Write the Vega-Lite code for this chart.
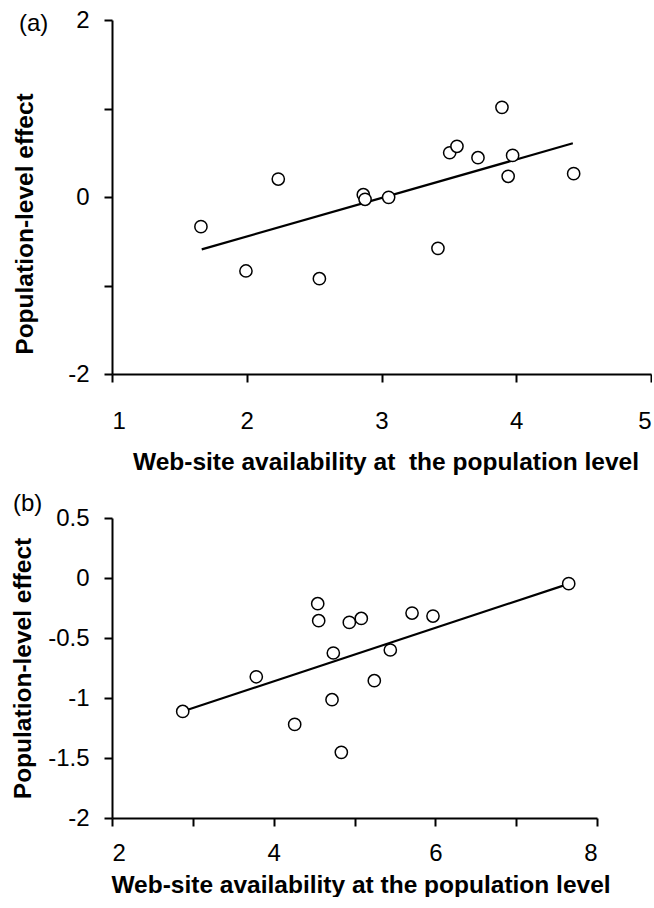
{
  "$schema": "https://vega.github.io/schema/vega-lite/v6.json",
  "padding": {"left": 10, "top": 8, "right": 0, "bottom": 0},
  "spacing": 18,
  "config": {
    "view": {"stroke": null},
    "font": "Liberation Sans",
    "axis": {
      "grid": false,
      "domainColor": "black",
      "domainWidth": 2,
      "tickColor": "black",
      "tickWidth": 2,
      "tickSize": 8,
      "labelColor": "black",
      "labelFont": "Liberation Sans",
      "labelFontSize": 24,
      "titleFont": "Liberation Sans",
      "titleFontSize": 24.5,
      "titleFontWeight": "bold",
      "titleColor": "black"
    },
    "title": {
      "font": "Liberation Sans",
      "fontSize": 24,
      "fontWeight": "normal",
      "color": "black",
      "anchor": "start",
      "frame": "group",
      "baseline": "middle"
    }
  },
  "datasets": {
    "a_points": [
      {"x": 1.66, "y": -0.335},
      {"x": 1.994, "y": -0.836},
      {"x": 2.234, "y": 0.203},
      {"x": 2.539, "y": -0.923},
      {"x": 2.865, "y": 0.026},
      {"x": 2.878, "y": -0.026},
      {"x": 3.053, "y": -0.004},
      {"x": 3.419, "y": -0.58},
      {"x": 3.506, "y": 0.5},
      {"x": 3.56, "y": 0.573},
      {"x": 3.716, "y": 0.444},
      {"x": 3.894, "y": 1.013},
      {"x": 3.973, "y": 0.47},
      {"x": 3.94, "y": 0.234},
      {"x": 4.426, "y": 0.264}
    ],
    "a_line": [
      {"x": 1.666, "y": -0.592},
      {"x": 4.42, "y": 0.607}
    ],
    "b_points": [
      {"x": 2.875, "y": -1.112},
      {"x": 3.785, "y": -0.823},
      {"x": 4.545, "y": -0.214},
      {"x": 4.557, "y": -0.356},
      {"x": 4.738, "y": -0.625},
      {"x": 4.722, "y": -1.014},
      {"x": 4.26, "y": -1.22},
      {"x": 4.837, "y": -1.453},
      {"x": 4.936, "y": -0.37},
      {"x": 5.084, "y": -0.337},
      {"x": 5.245, "y": -0.856},
      {"x": 5.443, "y": -0.6},
      {"x": 5.712, "y": -0.292},
      {"x": 5.971, "y": -0.317},
      {"x": 7.65, "y": -0.047}
    ],
    "b_line": [
      {"x": 2.88, "y": -1.11},
      {"x": 7.62, "y": -0.055}
    ]
  },
  "vconcat": [
    {
      "width": 539,
      "height": 354,
      "title": {"text": "(a)", "offset": -28, "dx": -93},
      "encoding": {
        "x": {
          "field": "x",
          "type": "quantitative",
          "scale": {"domain": [1, 5], "nice": false, "zero": false},
          "axis": {
            "title": "Web-site availability at \u00a0the population level",
            "values": [1, 2, 3, 4, 5],
            "labelExpr": "datum.value + ''",
            "labelPadding": 27,
            "titlePadding": 17,
            "titleX": 273.5
          }
        },
        "y": {
          "field": "y",
          "type": "quantitative",
          "scale": {"domain": [-2, 2], "nice": false, "zero": false},
          "axis": {
            "title": "Population-level effect",
            "values": [-2, -1, 0, 1, 2],
            "labelExpr": "datum.value % 2 === 0 ? datum.value + '' : ''",
            "labelPadding": 15,
            "titlePadding": 30,
            "titleY": 203.5
          }
        }
      },
      "layer": [
        {
          "data": {"name": "a_line"},
          "mark": {"type": "line", "color": "black", "strokeWidth": 2.2}
        },
        {
          "data": {"name": "a_points"},
          "mark": {"type": "point", "shape": "circle", "filled": true, "fill": "white", "stroke": "black", "strokeWidth": 1.5, "size": 150, "opacity": 1}
        }
      ]
    },
    {
      "width": 485,
      "height": 300,
      "title": {"text": "(b)", "offset": -10, "dx": -99},
      "encoding": {
        "x": {
          "field": "x",
          "type": "quantitative",
          "scale": {"domain": [2, 8], "nice": false, "zero": false},
          "axis": {
            "title": "Web-site availability at the population level",
            "values": [2, 3, 4, 5, 6, 7, 8],
            "labelExpr": "datum.value % 2 === 0 ? datum.value + '' : ''",
            "labelPadding": 15,
            "titlePadding": 8,
            "titleX": 248.5
          }
        },
        "y": {
          "field": "y",
          "type": "quantitative",
          "scale": {"domain": [-2, 0.5], "nice": false, "zero": false},
          "axis": {
            "title": "Population-level effect",
            "values": [-2, -1.5, -1, -0.5, 0, 0.5],
            "labelExpr": "datum.value + ''",
            "labelPadding": 15,
            "titlePadding": 12
          }
        }
      },
      "layer": [
        {
          "data": {"name": "b_line"},
          "mark": {"type": "line", "color": "black", "strokeWidth": 2.2}
        },
        {
          "data": {"name": "b_points"},
          "mark": {"type": "point", "shape": "circle", "filled": true, "fill": "white", "stroke": "black", "strokeWidth": 1.5, "size": 150, "opacity": 1}
        }
      ]
    }
  ]
}
